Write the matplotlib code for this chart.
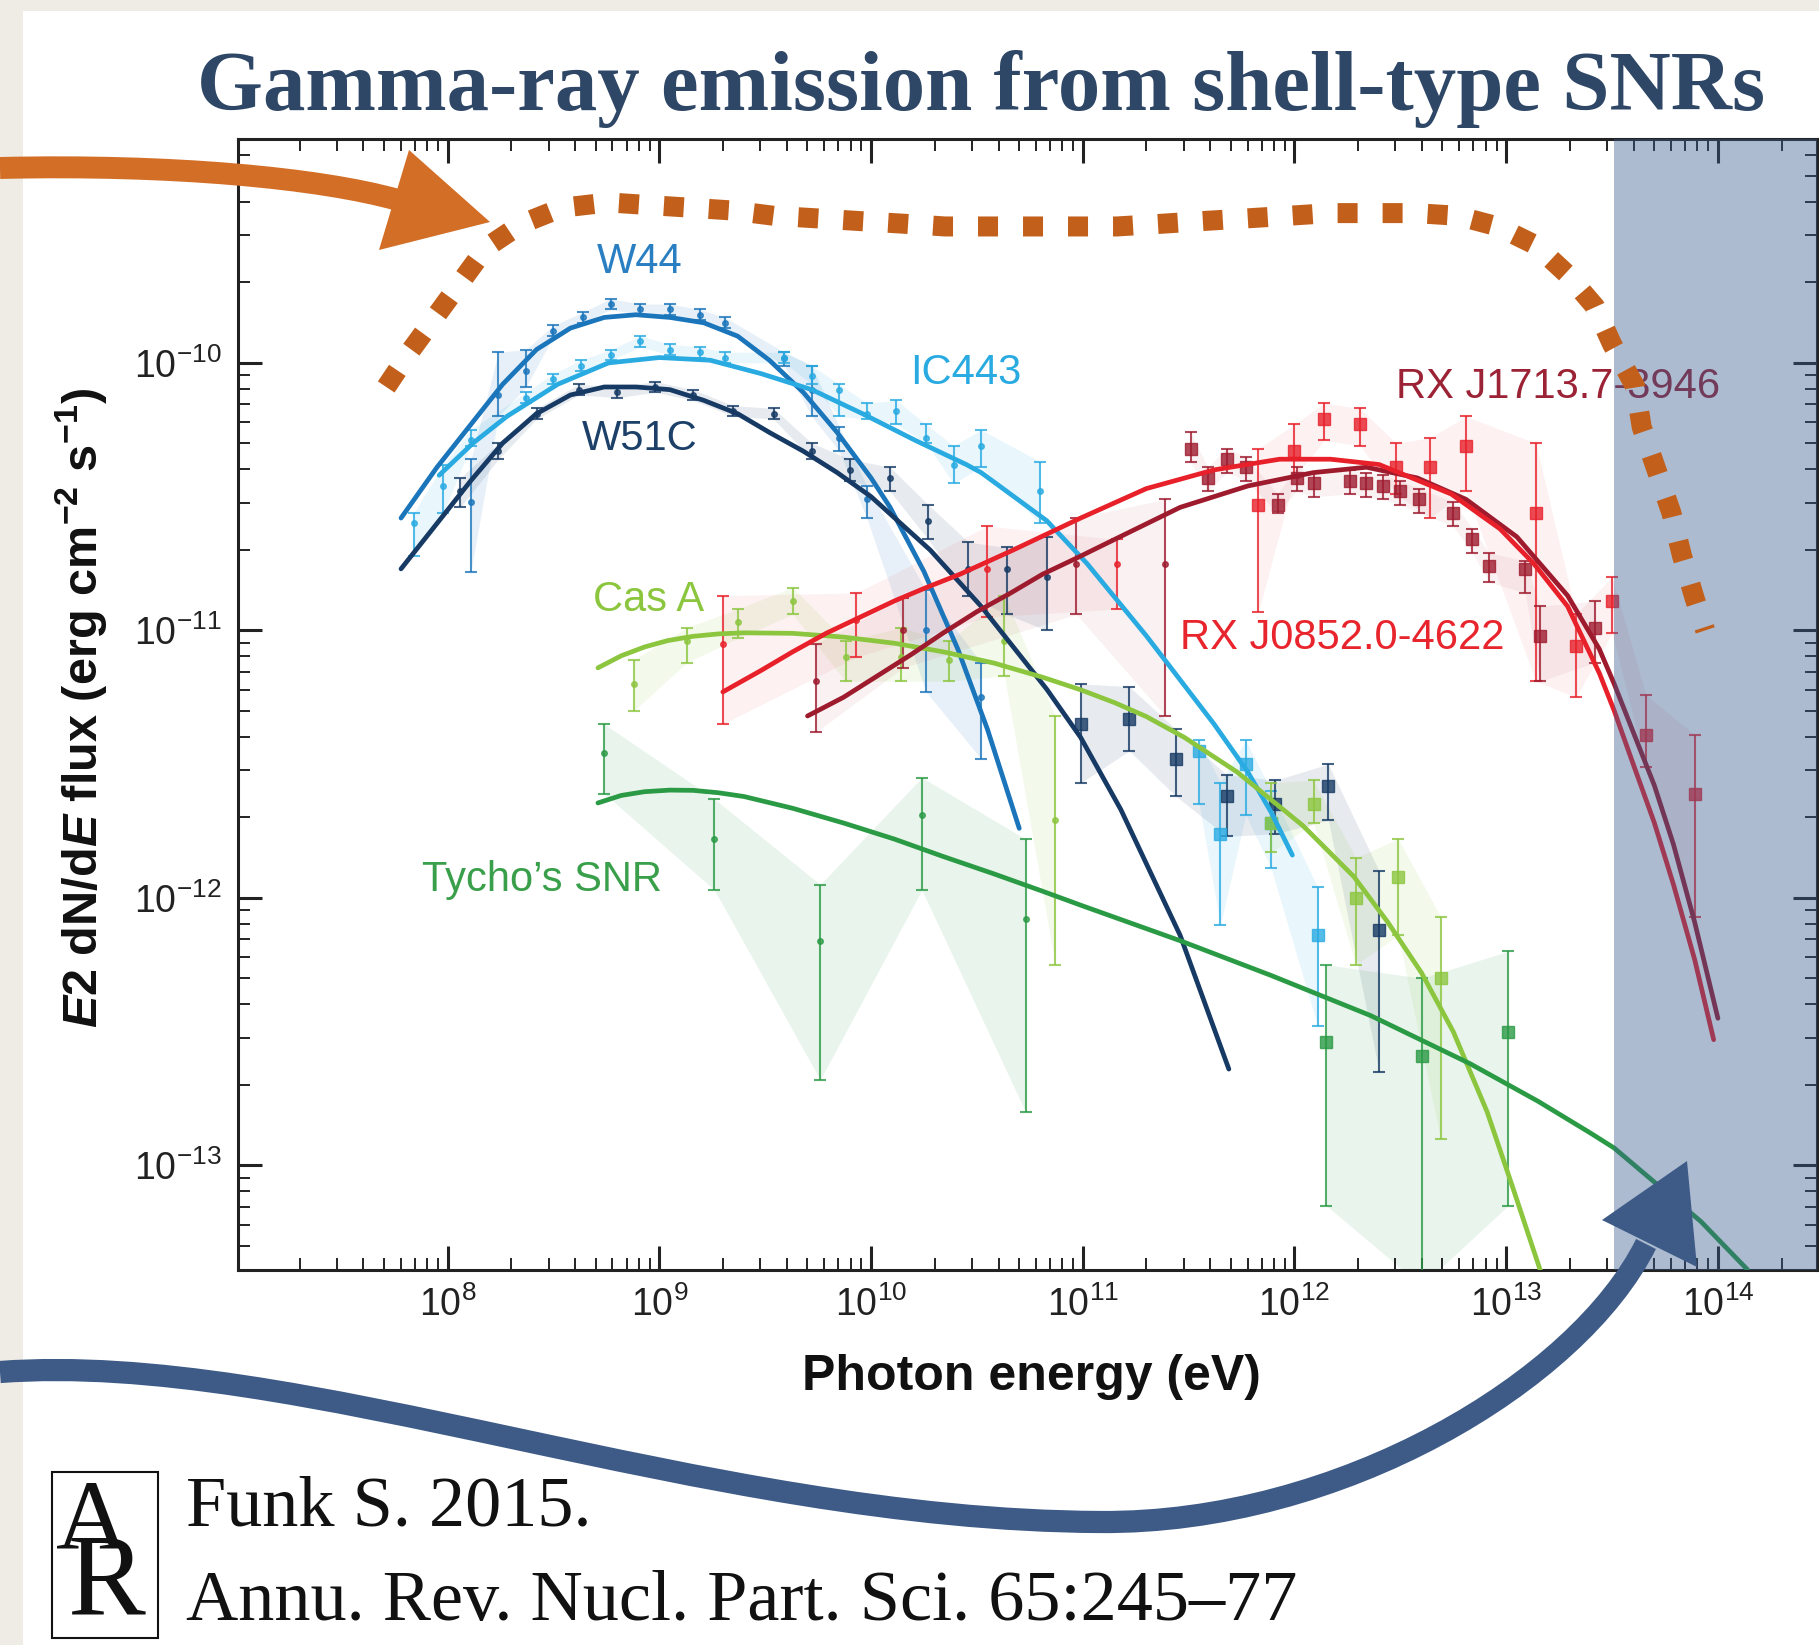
import matplotlib
matplotlib.use('Agg')
import matplotlib.pyplot as plt
import numpy as np
from matplotlib.path import Path
from matplotlib.patches import PathPatch, Polygon, Rectangle

W, H = 1819, 1645

plt.rcParams['font.family'] = ['Liberation Sans', 'DejaVu Sans']
plt.rcParams['mathtext.fontset'] = 'custom'
plt.rcParams['mathtext.rm'] = 'Liberation Sans'
plt.rcParams['mathtext.bf'] = 'Liberation Sans:bold'
plt.rcParams['mathtext.it'] = 'Liberation Sans:italic:bold'

# ---- spectra: log10(E / eV), log10(E^2 dN/dE / erg cm^-2 s^-1) ----
# W44
w44_curve_loge = [7.78, 7.95, 8.11, 8.26, 8.42, 8.58, 8.74, 8.89, 9.05, 9.21, 9.37, 9.52,
                  9.68, 9.84, 10.00, 10.09, 10.25, 10.41, 10.55, 10.70]
w44_curve_logf = [-10.58, -10.39, -10.23, -10.08, -9.95, -9.87, -9.83, -9.82, -9.83, -9.85, -9.90, -9.99,
                  -10.11, -10.26, -10.43, -10.54, -10.78, -11.07, -11.37, -11.74]
w44_gev_loge = [8.11, 8.24, 8.37, 8.50, 8.64, 8.77, 8.91, 9.05, 9.19, 9.31, 9.59, 9.72, 9.85, 9.98, 10.26, 10.52]
w44_gev_logf = [-10.52, -10.12, -10.03, -9.88, -9.83, -9.78, -9.80, -9.80, -9.82, -9.85, -9.98, -10.10, -10.28, -10.51, -11.00, -11.25]
w44_gev_hi = [-10.36, -9.96, -9.95, -9.86, -9.81, -9.76, -9.78, -9.78, -9.80, -9.83, -9.96, -10.01, -10.24, -10.46, -10.85, -11.12]
w44_gev_lo = [-10.78, -10.20, -10.09, -9.90, -9.85, -9.80, -9.82, -9.82, -9.84, -9.87, -10.01, -10.20, -10.33, -10.58, -11.23, -11.48]

# IC443
ic443_curve_loge = [7.96, 8.12, 8.28, 8.52, 8.76, 9.00, 9.24, 9.48, 9.72, 9.96, 10.21, 10.45, 10.52,
                    10.83, 11.02, 11.30, 11.62, 11.78, 11.89, 11.99]
ic443_curve_logf = [-10.42, -10.30, -10.20, -10.08, -10.00, -9.98, -9.99, -10.04, -10.10, -10.19, -10.29, -10.38, -10.41,
                    -10.59, -10.75, -11.02, -11.35, -11.53, -11.68, -11.84]
ic443_gev_loge = [7.84, 7.98, 8.11, 8.37, 8.50, 8.63, 8.77, 8.91, 9.05, 9.19, 9.31, 9.59, 9.72, 9.85,
                  9.98, 10.12, 10.26, 10.39, 10.52, 10.80]
ic443_gev_logf = [-10.60, -10.46, -10.29, -10.13, -10.06, -10.01, -9.97, -9.92, -9.95, -9.96, -9.98, -9.98, -10.05, -10.10,
                  -10.19, -10.18, -10.28, -10.38, -10.31, -10.48]
ic443_gev_hi = [-10.56, -10.38, -10.25, -10.11, -10.04, -9.99, -9.95, -9.90, -9.93, -9.94, -9.96, -9.96, -10.01, -10.08,
                -10.15, -10.14, -10.23, -10.31, -10.25, -10.37]
ic443_gev_lo = [-10.72, -10.56, -10.31, -10.15, -10.08, -10.03, -9.99, -9.94, -9.97, -9.98, -10.00, -10.00, -10.08, -10.20,
                -10.21, -10.23, -10.30, -10.45, -10.39, -10.60]
ic443_tev_loge = [11.55, 11.65, 11.77, 11.89, 12.11]
ic443_tev_logf = [-11.45, -11.76, -11.50, -11.72, -12.14]
ic443_tev_hi = [-11.41, -11.57, -11.41, -11.60, -11.96]
ic443_tev_lo = [-11.65, -12.10, -11.69, -11.89, -12.48]

# W51C
w51c_curve_loge = [7.78, 7.95, 8.11, 8.26, 8.42, 8.58, 8.74, 8.89, 9.05, 9.21, 9.37, 9.52, 9.68, 9.84,
                   10.00, 10.28, 10.52, 10.83, 10.99, 11.18, 11.46, 11.69]
w51c_curve_logf = [-10.77, -10.60, -10.44, -10.30, -10.19, -10.12, -10.09, -10.09, -10.10, -10.14, -10.19, -10.26, -10.33, -10.41,
                   -10.50, -10.70, -10.91, -11.22, -11.40, -11.67, -12.14, -12.64]
w51c_gev_loge = [8.06, 8.24, 8.42, 8.62, 8.80, 8.98, 9.16, 9.35, 9.54, 9.72, 9.90, 10.09, 10.27, 10.46, 10.64, 10.83]
w51c_gev_logf = [-10.48, -10.33, -10.19, -10.10, -10.11, -10.09, -10.12, -10.18, -10.19, -10.33, -10.40, -10.43, -10.59, -10.77, -10.77, -10.80]
w51c_gev_hi = [-10.43, -10.30, -10.17, -10.08, -10.09, -10.07, -10.10, -10.16, -10.17, -10.30, -10.36, -10.39, -10.53, -10.67, -10.69, -10.65]
w51c_gev_lo = [-10.54, -10.36, -10.21, -10.12, -10.13, -10.11, -10.14, -10.20, -10.21, -10.36, -10.44, -10.48, -10.66, -10.87, -10.94, -11.00]
w51c_tev_loge = [10.99, 11.22, 11.44, 11.68, 11.91, 12.16, 12.40]
w51c_tev_logf = [-11.35, -11.33, -11.48, -11.62, -11.65, -11.58, -12.12]
w51c_tev_hi = [-11.20, -11.21, -11.37, -11.54, -11.56, -11.50, -11.90]
w51c_tev_lo = [-11.57, -11.45, -11.62, -11.77, -11.76, -11.71, -12.65]

# Cas A
casa_curve_loge = [8.71, 8.82, 8.93, 9.04, 9.16, 9.28, 9.40, 9.63, 9.87, 10.11, 10.34, 10.58, 10.81, 10.99,
                   11.15, 11.30, 11.48, 11.73, 12.04, 12.28, 12.44, 12.60, 12.75, 12.91, 13.03, 13.16, 13.19]
casa_curve_logf = [-11.14, -11.095, -11.062, -11.038, -11.022, -11.013, -11.009, -11.011, -11.025, -11.048, -11.08,
                   -11.122, -11.175, -11.222, -11.27, -11.322, -11.40, -11.53, -11.73, -11.92, -12.09, -12.28,
                   -12.50, -12.80, -13.08, -13.39, -13.45]
casa_gev_loge = [8.88, 9.13, 9.37, 9.63, 9.88, 10.14, 10.37, 10.63, 10.87]
casa_gev_logf = [-11.20, -11.04, -10.97, -10.89, -11.10, -11.10, -11.11, -11.04, -11.71]
casa_gev_hi = [-11.11, -10.99, -10.92, -10.84, -11.04, -10.99, -11.04, -10.87, -11.32]
casa_gev_lo = [-11.30, -11.12, -11.03, -10.94, -11.19, -11.19, -11.19, -11.17, -12.25]
casa_tev_loge = [11.89, 12.09, 12.29, 12.49, 12.69]
casa_tev_logf = [-11.72, -11.65, -12.00, -11.92, -12.30]
casa_tev_hi = [-11.57, -11.56, -11.85, -11.78, -12.07]
casa_tev_lo = [-11.83, -11.72, -12.25, -12.14, -12.90]

# Tycho's SNR
tycho_curve_loge = [8.71, 8.82, 8.93, 9.05, 9.16, 9.28, 9.40, 9.63, 9.87, 10.11, 10.34, 10.58, 10.81, 11.00,
                    11.46, 11.89, 12.36, 12.83, 13.15, 13.40, 13.51, 13.92, 14.14]
tycho_curve_logf = [-11.645, -11.617, -11.603, -11.597, -11.598, -11.607, -11.621, -11.665, -11.72, -11.78,
                    -11.845, -11.91, -11.975, -12.03, -12.16, -12.29, -12.44, -12.62, -12.76, -12.88, -12.935,
                    -13.21, -13.39]
tycho_gev_loge = [8.74, 9.26, 9.76, 10.24, 10.73]
tycho_gev_logf = [-11.46, -11.78, -12.16, -11.69, -12.08]
tycho_gev_hi = [-11.35, -11.63, -11.95, -11.55, -11.78]
tycho_gev_lo = [-11.61, -11.97, -12.68, -11.97, -12.80]
tycho_tev_loge = [12.15, 12.60, 13.01]
tycho_tev_logf = [-12.54, -12.59, -12.50]
tycho_tev_hi = [-12.25, -12.30, -12.20]
tycho_tev_lo = [-13.15, -13.45, -13.15]

# RX J0852.0-4622
j0852_curve_loge = [9.30, 9.48, 9.63, 9.79, 9.95, 10.11, 10.26, 10.42, 10.67, 10.99, 11.30, 11.62, 11.93,
                    12.17, 12.40, 12.74, 12.97, 13.13, 13.29, 13.44, 13.51, 13.60, 13.70, 13.79, 13.89, 13.98]
j0852_curve_logf = [-11.23, -11.15, -11.08, -11.01, -10.95, -10.89, -10.84, -10.79, -10.70, -10.58, -10.47, -10.40, -10.36,
                    -10.36, -10.38, -10.49, -10.62, -10.75, -10.91, -11.16, -11.30, -11.50, -11.72, -11.95, -12.23, -12.53]
j0852_gev_loge = [9.30, 9.93, 10.55, 11.16]
j0852_gev_logf = [-11.05, -10.96, -10.77, -10.75]
j0852_gev_hi = [-10.87, -10.86, -10.61, -10.66]
j0852_gev_lo = [-11.35, -11.10, -10.95, -10.92]
j0852_tev_loge = [11.83, 12.00, 12.14, 12.31, 12.48, 12.64, 12.81, 13.14, 13.33, 13.50, 13.66, 13.89]
j0852_tev_logf = [-10.53, -10.33, -10.21, -10.23, -10.39, -10.39, -10.31, -10.56, -11.06, -10.89, -11.39, -11.61]
j0852_tev_hi = [-10.32, -10.23, -10.15, -10.17, -10.30, -10.28, -10.20, -10.30, -10.94, -10.80, -11.24, -11.39]
j0852_tev_lo = [-10.93, -10.43, -10.29, -10.31, -10.49, -10.58, -10.48, -11.19, -11.25, -11.01, -11.51, -12.07]

# RX J1713.7-3946
j1713_curve_loge = [9.70, 9.87, 10.03, 10.19, 10.34, 10.50, 10.66, 10.81, 10.97, 11.15, 11.46, 11.78, 12.09,
                    12.34, 12.58, 12.81, 13.05, 13.29, 13.44, 13.51, 13.60, 13.70, 13.79, 13.89, 14.00]
j1713_curve_logf = [-11.32, -11.25, -11.17, -11.09, -11.01, -10.93, -10.86, -10.79, -10.73, -10.66, -10.54, -10.46, -10.41,
                    -10.39, -10.43, -10.51, -10.65, -10.87, -11.07, -11.20, -11.38, -11.58, -11.80, -12.09, -12.45]
j1713_gev_loge = [9.74, 10.15, 10.97, 11.39]
j1713_gev_logf = [-11.19, -11.00, -10.75, -10.75]
j1713_gev_hi = [-11.05, -10.88, -10.58, -10.51]
j1713_gev_lo = [-11.38, -11.14, -10.94, -11.32]
j1713_tev_loge = [11.51, 11.59, 11.68, 11.77, 11.92, 12.01, 12.09, 12.26, 12.34, 12.42, 12.50, 12.59,
                  12.75, 12.84, 12.92, 13.09, 13.16, 13.42]
j1713_tev_logf = [-10.32, -10.43, -10.36, -10.39, -10.53, -10.43, -10.45, -10.44, -10.45, -10.46, -10.48, -10.51,
                  -10.56, -10.66, -10.76, -10.77, -11.02, -10.99]
j1713_tev_hi = [-10.26, -10.39, -10.32, -10.35, -10.49, -10.39, -10.41, -10.40, -10.41, -10.42, -10.44, -10.47,
                -10.52, -10.62, -10.71, -10.74, -10.91, -10.89]
j1713_tev_lo = [-10.37, -10.48, -10.41, -10.44, -10.56, -10.48, -10.50, -10.49, -10.50, -10.51, -10.53, -10.56,
                -10.61, -10.71, -10.82, -10.86, -11.19, -11.12]

# hand-drawn envelope over all sources
envelope_loge = [7.71, 7.82, 7.94, 8.06, 8.18, 8.35, 8.54, 8.76, 8.95, 9.15, 9.34, 9.54, 9.75, 9.95, 10.16,
                 10.35, 10.55, 10.76, 10.97, 11.16, 11.37, 11.56, 11.77, 11.97, 12.17, 12.37, 12.57, 12.77,
                 12.96, 13.14, 13.29, 13.42, 13.50, 13.61, 13.64, 13.71, 13.78, 13.83, 13.89, 13.94]
envelope_logf = [-10.09, -9.96, -9.83, -9.70, -9.57, -9.48, -9.42, -9.40, -9.41, -9.42, -9.43, -9.45, -9.46, -9.47, -9.48,
                 -9.49, -9.49, -9.49, -9.49, -9.49, -9.48, -9.47, -9.46, -9.45, -9.44, -9.44, -9.44, -9.45,
                 -9.49, -9.56, -9.67, -9.79, -9.93, -10.09, -10.24, -10.40, -10.56, -10.72, -10.88, -11.00]

# source names and label anchors (log E, log F)
labels = ['W44', 'IC443', 'W51C', 'Cas A', "Tycho\u2019s SNR", 'RX J1713.7-3946', 'RX J0852.0-4622']
label_loge = [8.905, 10.445, 8.909, 8.949, 8.446, 13.243, 12.228]
label_logf = [-9.624, -10.039, -10.285, -10.886, -11.933, -10.089, -11.028]
label_colors = ['#2a7fc2', '#29abe2', '#1d4068', '#8cc63f', '#3a9f4a', '#9b2335', '#e8242c']

c_w44, c_ic443, c_w51c = '#1b75bb', '#29abe2', '#163a64'
c_casa, c_tycho = '#8cc63f', '#2a9a45'
c_j0852, c_j1713 = '#e8202a', '#9e1b2e'


def lg(v):
    return 10.0 ** np.asarray(v)


def fig_xy(x, y):
    return x / W, 1 - y / H


fig = plt.figure(figsize=(W / 100, H / 100), dpi=100, facecolor='#efebe5')
fig.patches.append(Rectangle((23 / W, 0), (W - 23) / W, (H - 11) / H, transform=fig.transFigure,
                             facecolor='white', edgecolor='none', zorder=-5))

ax = fig.add_axes([238 / W, 1 - 1270 / H, (1817 - 238) / W, (1270 - 139) / H])
ax.set_xscale('log')
ax.set_yscale('log')
ax.set_xlim(10 ** 7.01, 10 ** 14.468)
ax.set_ylim(10 ** -13.391, 10 ** -9.163)
ax.patch.set_alpha(0)


def draw_points(loge, logf, hi, lo, color, marker, ms, band_alpha=0.1):
    e, f = lg(loge), lg(logf)
    ax.fill_between(e, lg(lo), lg(hi), color=color, alpha=band_alpha, lw=0, zorder=1)
    ax.errorbar(e, f, yerr=[f - lg(lo), lg(hi) - f], fmt=marker, color=color, ms=ms,
                elinewidth=1.5, capsize=4, capthick=1.5, alpha=0.8, zorder=3)


def draw_curve(loge, logf, color):
    ax.plot(lg(loge), lg(logf), color=color, lw=3.4, zorder=4,
            solid_capstyle='round', solid_joinstyle='round')


draw_points(w44_gev_loge, w44_gev_logf, w44_gev_hi, w44_gev_lo, c_w44, 'o', 4)
draw_points(ic443_gev_loge, ic443_gev_logf, ic443_gev_hi, ic443_gev_lo, c_ic443, 'o', 4)
draw_points(ic443_tev_loge, ic443_tev_logf, ic443_tev_hi, ic443_tev_lo, c_ic443, 's', 8)
draw_points(w51c_gev_loge, w51c_gev_logf, w51c_gev_hi, w51c_gev_lo, c_w51c, 'o', 4)
draw_points(w51c_tev_loge, w51c_tev_logf, w51c_tev_hi, w51c_tev_lo, c_w51c, 's', 8)
draw_points(casa_gev_loge, casa_gev_logf, casa_gev_hi, casa_gev_lo, c_casa, 'o', 4)
draw_points(casa_tev_loge, casa_tev_logf, casa_tev_hi, casa_tev_lo, c_casa, 's', 8)
draw_points(tycho_gev_loge, tycho_gev_logf, tycho_gev_hi, tycho_gev_lo, c_tycho, 'o', 4)
draw_points(tycho_tev_loge, tycho_tev_logf, tycho_tev_hi, tycho_tev_lo, c_tycho, 's', 8)
draw_points(j0852_gev_loge, j0852_gev_logf, j0852_gev_hi, j0852_gev_lo, c_j0852, 'o', 4, 0.06)
draw_points(j0852_tev_loge, j0852_tev_logf, j0852_tev_hi, j0852_tev_lo, c_j0852, 's', 8, 0.06)
draw_points(j1713_gev_loge, j1713_gev_logf, j1713_gev_hi, j1713_gev_lo, c_j1713, 'o', 4, 0.06)
draw_points(j1713_tev_loge, j1713_tev_logf, j1713_tev_hi, j1713_tev_lo, c_j1713, 's', 8, 0.06)

draw_curve(w44_curve_loge, w44_curve_logf, c_w44)
draw_curve(ic443_curve_loge, ic443_curve_logf, c_ic443)
draw_curve(w51c_curve_loge, w51c_curve_logf, c_w51c)
draw_curve(casa_curve_loge, casa_curve_logf, c_casa)
draw_curve(tycho_curve_loge, tycho_curve_logf, c_tycho)
draw_curve(j1713_curve_loge, j1713_curve_logf, c_j1713)
draw_curve(j0852_curve_loge, j0852_curve_logf, c_j0852)

for name, le, lf, col in zip(labels, label_loge, label_logf, label_colors):
    ax.text(10 ** le, 10 ** lf, name, ha='center', va='center', fontsize=30, color=col, zorder=5)

# highlighted band at the highest energies
ax.axvspan(10 ** 13.507, 10 ** 14.468, color='#3a5d8f', alpha=0.42, lw=0, zorder=6)

# dotted envelope
ax.plot(lg(envelope_loge), lg(envelope_logf), color='#c2601b', lw=14.4, linestyle=(0, (1, 1.25)),
        dash_capstyle='butt', zorder=8)

for side in ax.spines.values():
    side.set_linewidth(2.2)
    side.set_color('#222222')
ax.tick_params(which='major', direction='in', length=17, width=2.2, labelsize=27, pad=12,
               top=True, right=True, colors='#222222')
ax.tick_params(which='minor', direction='in', length=8.5, width=1.4, top=True, right=True, colors='#222222')

fig.text(1031 / W, 1 - 1390 / H, 'Photon energy (eV)', ha='center', va='baseline', fontsize=36,
         weight='bold', color='#111111')
fig.text(81 / W, 1 - 708 / H, r'$E$2 dN/d$E$ flux (erg cm$^{\mathbf{-2}}$ s$^{\mathbf{-1}}$)',
         rotation=90, ha='center', va='center', fontsize=35, weight='bold', color='#111111')

# title
fig.text(197 / W, 1 - 110 / H, 'Gamma-ray emission from shell-type SNRs', family='Liberation Serif',
         weight='bold', fontsize=61, color='#2f4766', va='baseline')

# orange arrow into the envelope
orange = '#d36e26'
shaft = Path([fig_xy(0, 168), fig_xy(170, 164), fig_xy(320, 178), fig_xy(398, 200)],
             [Path.MOVETO, Path.CURVE4, Path.CURVE4, Path.CURVE4])
fig.add_artist(PathPatch(shaft, fill=False, lw=15.8, edgecolor=orange, capstyle='butt',
                         transform=fig.transFigure, zorder=10))
fig.add_artist(Polygon([fig_xy(409, 150), fig_xy(490, 222), fig_xy(379, 250)], closed=True,
                       facecolor=orange, edgecolor='none', transform=fig.transFigure, zorder=10))

# blue arrow into the highlighted band
navy = '#3e5b87'
shaft = Path([fig_xy(0, 1372), fig_xy(300, 1350), fig_xy(700, 1520), fig_xy(1100, 1522),
              fig_xy(1340, 1524), fig_xy(1578, 1381), fig_xy(1646, 1244)],
             [Path.MOVETO, Path.CURVE4, Path.CURVE4, Path.CURVE4, Path.CURVE4, Path.CURVE4, Path.CURVE4])
fig.add_artist(PathPatch(shaft, fill=False, lw=16, edgecolor=navy, capstyle='butt',
                         transform=fig.transFigure, zorder=10))
fig.add_artist(Polygon([fig_xy(1687, 1161), fig_xy(1602, 1220), fig_xy(1697, 1267)], closed=True,
                       facecolor=navy, edgecolor='none', transform=fig.transFigure, zorder=10))

# citation with journal logo
fig.text(186 / W, 1 - 1525 / H, 'Funk S. 2015.', family='Liberation Serif', fontsize=52,
         va='baseline', color='#111111')
fig.text(186 / W, 1 - 1620 / H, 'Annu. Rev. Nucl. Part. Sci. 65:245\u201377', family='Liberation Serif',
         fontsize=52, va='baseline', color='#111111')
fig.add_artist(Rectangle(fig_xy(52, 1638), 106 / W, 166 / H, transform=fig.transFigure,
                         fill=False, edgecolor='#111111', lw=1.5, zorder=10))
fig.text(92 / W, 1 - 1548 / H, 'A', family='Liberation Serif', fontsize=72, ha='center',
         va='baseline', color='#111111')
fig.text(106 / W, 1 - 1614 / H, 'R', family='Liberation Serif', fontsize=84, ha='center',
         va='baseline', color='#111111')

fig.savefig('out.png', dpi=100, facecolor=fig.get_facecolor())
